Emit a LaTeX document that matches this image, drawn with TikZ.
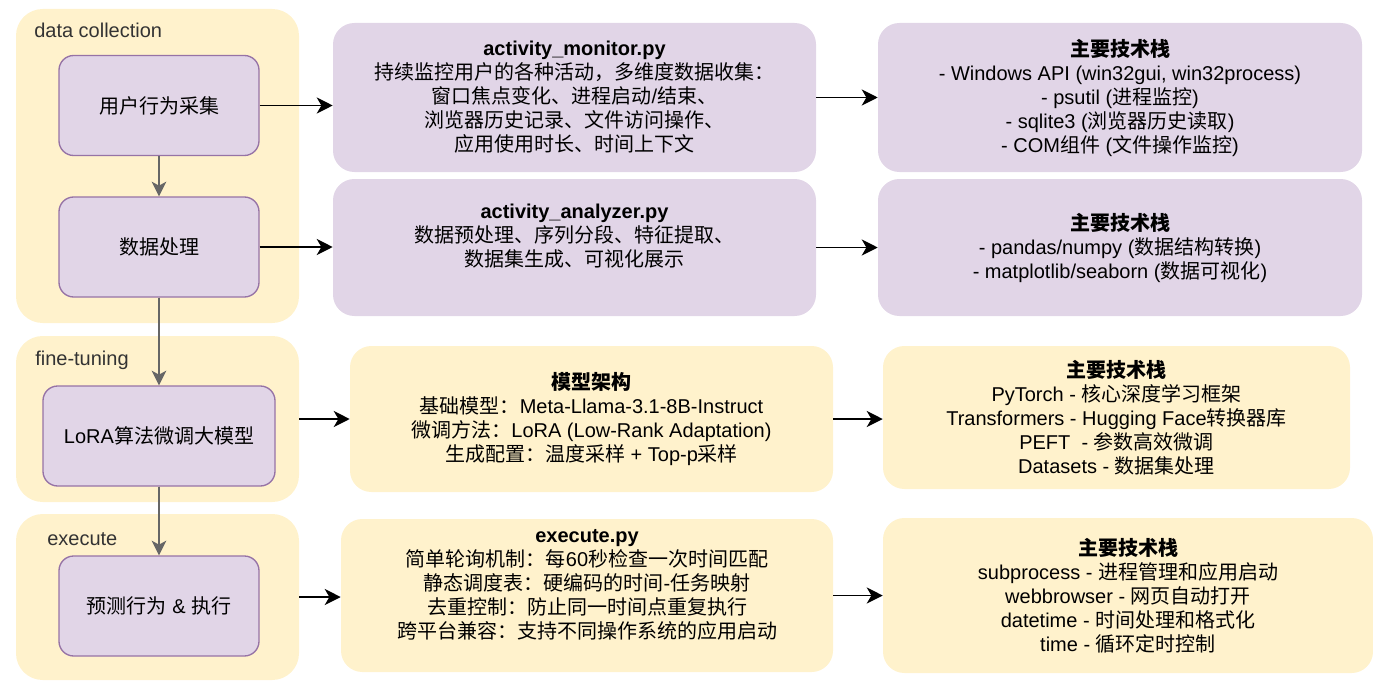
\documentclass[tikz,border=0pt]{standalone}
\usepackage{fontspec}
\setmainfont{Liberation Sans}
\newfontfamily\cjkfont{Noto Sans CJK SC}
\usepackage{tikz}
\usetikzlibrary{arrows.meta, positioning, calc}
\usepackage{xcolor}

% switch to the CJK font for Chinese characters
\XeTeXinterchartokenstate=1
\newXeTeXintercharclass\cjkclass
\newcount\cjkcode
\def\setcjkrange#1#2{\cjkcode=#1 \loop\XeTeXcharclass\cjkcode=\cjkclass\ifnum\cjkcode<#2 \advance\cjkcode by 1 \repeat}
\setcjkrange{"3000}{"303F}
\setcjkrange{"4E00}{"9FFF}
\setcjkrange{"FF00}{"FFEF}
\XeTeXinterchartoks 0 \cjkclass = {\cjkfont}
\XeTeXinterchartoks 4095 \cjkclass = {\cjkfont}
\XeTeXinterchartoks \cjkclass 0 = {\rmfamily}
\XeTeXinterchartoks \cjkclass 4095 = {\rmfamily}

\definecolor{stageyellow}{HTML}{FFF2CC}
\definecolor{taskpurple}{HTML}{E1D5E7}
\definecolor{taskborder}{HTML}{9673A6}
\definecolor{labelgray}{HTML}{333333}
\definecolor{arrowgray}{HTML}{666666}

\begin{document}
\begin{tikzpicture}[x=0.75pt, y=-0.75pt,
    stage/.style={rectangle, rounded corners=20pt, fill=stageyellow, inner sep=0pt},
    stagelabel/.style={anchor=west, inner sep=0pt, text=labelgray, font=\fontsize{15}{18}\selectfont},
    task/.style={rectangle, rounded corners=11pt, draw=taskborder, line width=1pt, fill=taskpurple, align=center, minimum width=150pt, minimum height=75pt, font=\fontsize{15}{18}\selectfont},
    info/.style={rectangle, rounded corners=16pt, align=center, font=\fontsize{15}{18}\selectfont},
    flow/.style={-{Stealth[length=12pt, width=12pt, inset=3.5pt]}, line width=1.2pt},
    nextstep/.style={-{Stealth[length=11pt, width=11pt, inset=3pt]}, line width=1.2pt, draw=arrowgray, fill=arrowgray},
    ]
\useasboundingbox (0,0) rectangle (1373,692);

% Stages
\node[stage, minimum width=212.25pt, minimum height=235.5pt] (collectstage) at (157.5,166) {};
\node[stage, minimum width=212.25pt, minimum height=124.5pt] (tunestage) at (157.5,419) {};
\node[stage, minimum width=212.25pt, minimum height=124.5pt] (execstage) at (157.5,597) {};
\node[stagelabel] (collectlabel) at (34,30) {data collection};
\node[stagelabel] (tunelabel) at (35,360) {fine-tuning};
\node[stagelabel] (execlabel) at (47,539) {execute};

\node[task] (collect) at (159,105.5) {用户行为采集};
\node[task] (process) at (159,247) {数据处理};
\node[task, minimum width=174pt] (lora) at (159,436) {LoRA算法微调大模型};
\node[task] (predict) at (159,606) {预测行为 \& 执行};

% Scripts
\node[info, fill=taskpurple, minimum width=362.25pt, minimum height=111.75pt] (monitor) at (574.5,97.5)
    {\textbf{activity\_monitor.py}\\持续监控用户的各种活动，多维度数据收集：\\窗口焦点变化、进程启动/结束、\\浏览器历史记录、文件访问操作、\\应用使用时长、时间上下文};
\node[info, fill=taskpurple, minimum width=362.25pt, minimum height=102.75pt] (analyzer) at (574.5,247.5)
    {\textbf{activity\_analyzer.py}\\数据预处理、序列分段、特征提取、\\数据集生成、可视化展示\\ \mbox{}};
\node[info, fill=stageyellow, minimum width=362.25pt, minimum height=109.5pt] (arch) at (591.5,419)
    {\textbf{模型架构}\\基础模型：Meta-Llama-3.1-8B-Instruct\\微调方法：LoRA (Low-Rank Adaptation)\\生成配置：温度采样 + Top-p采样};
\node[info, fill=stageyellow, minimum width=369pt, minimum height=114.75pt] (execpy) at (587,595.5)
    {\textbf{execute.py}\\简单轮询机制：每60秒检查一次时间匹配\\静态调度表：硬编码的时间-任务映射\\去重控制：防止同一时间点重复执行\\跨平台兼容：支持不同操作系统的应用启动\\ \mbox{}};

% Tech stacks
\node[info, fill=taskpurple, minimum width=363pt, minimum height=111.75pt] (tech1) at (1120,97.5)
    {\textbf{主要技术栈}\\- Windows API (win32gui, win32process)\\- psutil (进程监控)\\- sqlite3 (浏览器历史读取)\\- COM组件 (文件操作监控)};
\node[info, fill=taskpurple, minimum width=363pt, minimum height=102.75pt] (tech2) at (1120,247.5)
    {\textbf{主要技术栈}\\- pandas/numpy (数据结构转换)\\- matplotlib/seaborn (数据可视化)};
\node[info, fill=stageyellow, minimum width=350.25pt, minimum height=107.25pt] (tech3) at (1116.5,417.5)
    {\textbf{主要技术栈}\\PyTorch - 核心深度学习框架\\Transformers - Hugging Face转换器库\\PEFT~ - 参数高效微调\\Datasets - 数据集处理};
\node[info, fill=stageyellow, minimum width=367.5pt, minimum height=116.25pt] (tech4) at (1128,595.5)
    {\textbf{主要技术栈}\\subprocess - 进程管理和应用启动\\webbrowser - 网页自动打开\\datetime - 时间处理和格式化\\time - 循环定时控制};

% Arrows
\draw[nextstep] (collect.south) -- (process.north);
\draw[nextstep] (process.south) -- (lora.north);
\draw[nextstep] (lora.south) -- (predict.north);

\draw[flow] (collect.east) -- (collect.east -| monitor.west);
\draw[flow] (monitor.east) -- (tech1.west);
\draw[flow] (process.east) -- (process.east -| analyzer.west);
\draw[flow] (analyzer.east) -- (tech2.west);
\draw[flow] (tunestage.east) -- (arch.west);
\draw[flow] (arch.east) -- (arch.east -| tech3.west);
\draw[flow] (execstage.east) -- (execstage.east -| execpy.west);
\draw[flow] (execpy.east) -- (execpy.east -| tech4.west);

\end{tikzpicture}
\end{document}
